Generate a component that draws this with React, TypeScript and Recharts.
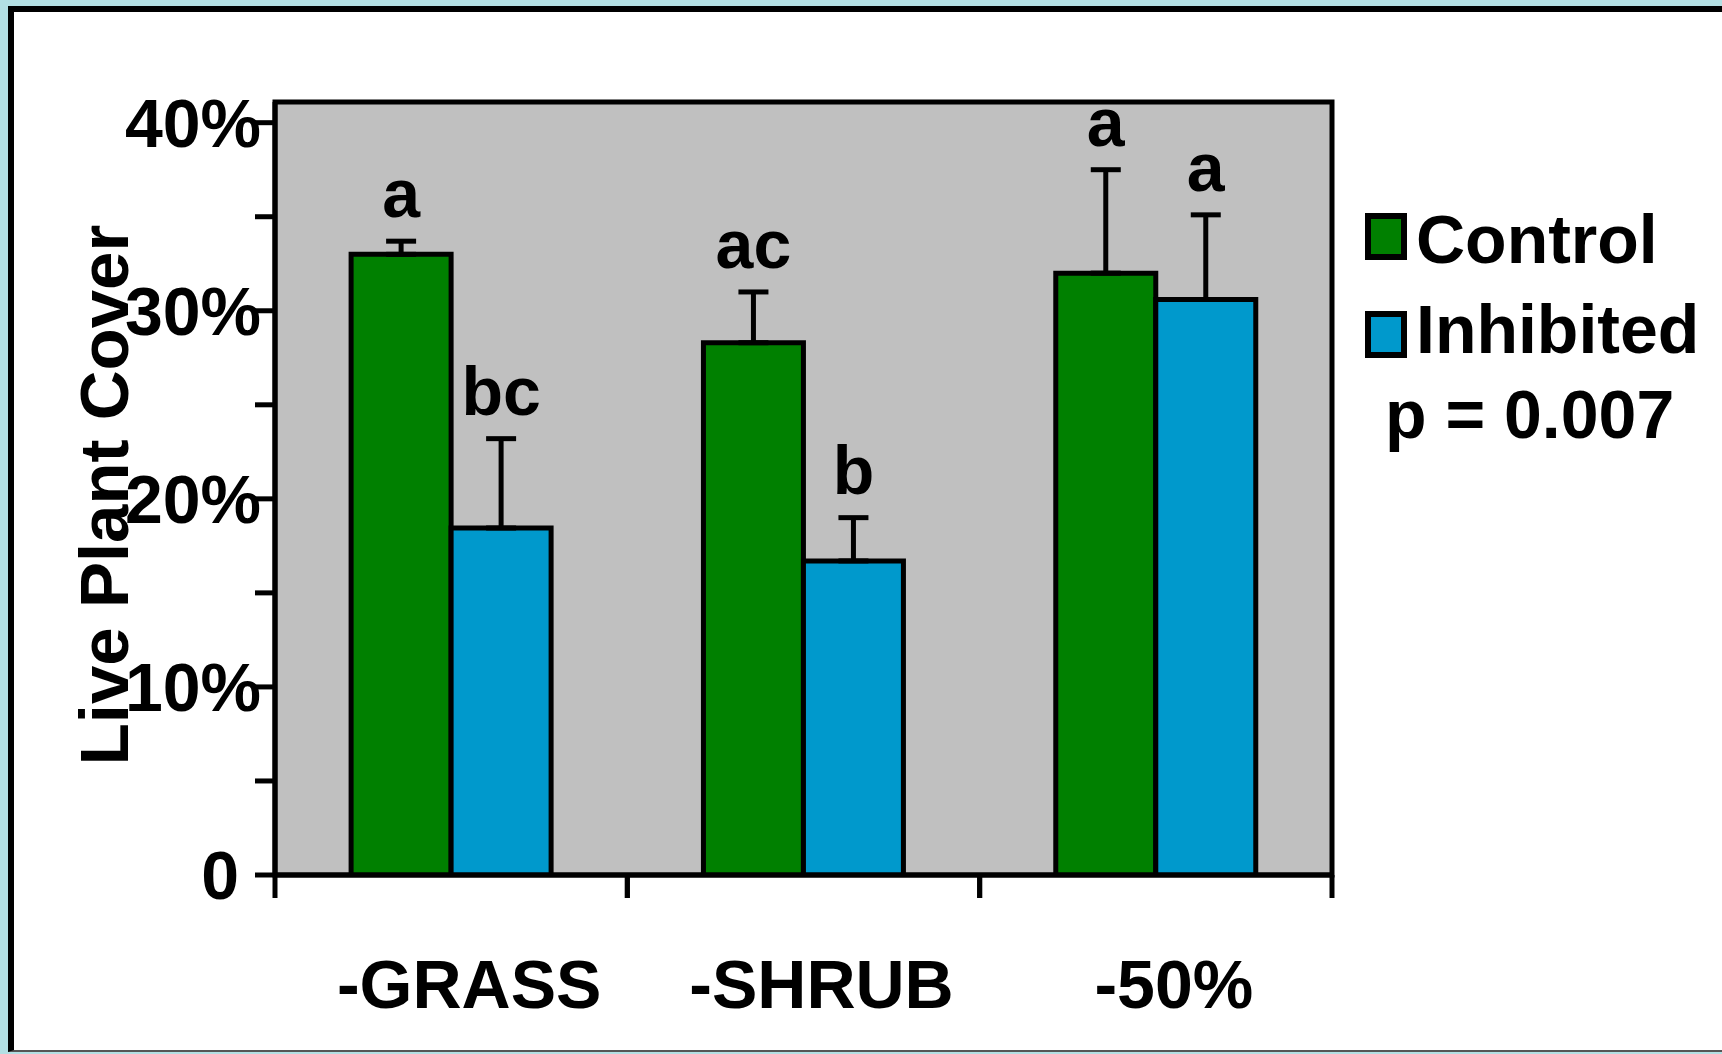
import React from "react";
import { BarChart, Bar, XAxis, YAxis, CartesianGrid, ErrorBar, LabelList, Legend, ReferenceArea } from "recharts";

const categories = ["-GRASS", "-SHRUB", "-50%"];
const controlCover = [33.0, 28.3, 32.0];
const controlErr = [0.7, 2.7, 5.5];
const inhibitedCover = [18.45, 16.7, 30.6];
const inhibitedErr = [4.75, 2.3, 4.5];
const controlLetters = ["a", "ac", "a"];
const inhibitedLetters = ["bc", "b", "a"];
const yTicks = [0, 5, 10, 15, 20, 25, 30, 35, 40];
const pText = "p = 0.007";

const data = categories.map((c, i) => ({
  cat: c,
  control: controlCover[i],
  controlErr: [0, controlErr[i]],
  controlLetter: controlLetters[i],
  inhibited: inhibitedCover[i],
  inhibitedErr: [0, inhibitedErr[i]],
  inhibitedLetter: inhibitedLetters[i],
}));

const W = 1722, H = 1054;
const PLOT_LEFT = 275, PLOT_RIGHT = 1332, PLOT_TOP = 102, PLOT_BOTTOM = 875;
const Y_AXIS_W = 120, X_AXIS_H = 60;
const Y_MAX = 41.1;
const PX_PER = (PLOT_BOTTOM - PLOT_TOP) / Y_MAX;
const BAND = (PLOT_RIGHT - PLOT_LEFT) / categories.length;
const FONT = '"Liberation Sans", Arial, Helvetica, sans-serif';
const GREEN = "#008000";
const BLUE = "#0099cc";

const txt = { fontFamily: FONT, fontWeight: 700, fontSize: 68, fill: "#000" };

function YTick({ x, y, payload }: any) {
  const v = payload.value;
  if (v % 10 !== 0) return null;
  return (
    <text x={v === 0 ? x - 14 : x + 8} y={y} dy="0.36em" textAnchor="end" {...txt}>
      {v === 0 ? "0" : `${v}%`}
    </text>
  );
}

function XTick({ x, payload }: any) {
  const left = x - BAND / 2, right = x + BAND / 2;
  return (
    <g>
      <line x1={left} x2={left} y1={PLOT_BOTTOM} y2={PLOT_BOTTOM + 23} stroke="#000" strokeWidth={5} />
      <line x1={right} x2={right} y1={PLOT_BOTTOM} y2={PLOT_BOTTOM + 23} stroke="#000" strokeWidth={5} />
      <text x={x + 18} y={PLOT_BOTTOM + 133} textAnchor="middle" {...txt}>{payload.value}</text>
    </g>
  );
}

const letter = (errs: number[]) => (p: any) => {
  const { x, y, width, value, index } = p;
  const top = y - errs[index] * PX_PER;
  return (
    <text x={x + width / 2} y={top - 24} textAnchor="middle" {...txt}>{value}</text>
  );
};

function YLabel() {
  const cx = 128, cy = 495;
  return (
    <text x={cx} y={cy} transform={`rotate(-90, ${cx}, ${cy})`} textAnchor="middle" {...txt} fontSize={69}>
      Live Plant Cover
    </text>
  );
}

function LegendBox({ payload }: any) {
  const items = payload || [];
  return (
    <svg width={360} height={260} style={{ display: "block" }}>
      {items.map((it: any, i: number) => (
        <g key={it.value}>
          <rect x={8} y={16 + i * 98} width={36} height={41} fill={it.color} stroke="#000" strokeWidth={6} />
          <text x={56} y={63 + i * 90} {...txt}>{it.value}</text>
        </g>
      ))}
      <text x={25} y={238} {...txt}>{pText}</text>
    </svg>
  );
}

export default function App() {
  return (
    <div style={{ position: "absolute", left: 0, top: 0, width: W, height: H, background: "#b3dfe3", overflow: "hidden" }}>
      <div style={{ position: "absolute", left: 8, top: 6, width: 1800, height: 1046, background: "#fff", borderLeft: "6px solid #000", borderTop: "6px solid #000", borderBottom: "2px solid #555", boxSizing: "border-box" }} />
      <div style={{ position: "absolute", left: 0, top: 0 }}>
        <BarChart
          width={W}
          height={H}
          data={data}
          margin={{ top: PLOT_TOP, left: PLOT_LEFT - Y_AXIS_W, right: W - PLOT_RIGHT, bottom: H - PLOT_BOTTOM - X_AXIS_H }}
          barCategoryGap="21.6%"
          barGap={0}
        >
          <CartesianGrid fill="#c0c0c0" fillOpacity={1} horizontal={false} vertical={false} />
          <XAxis dataKey="cat" height={X_AXIS_H} axisLine={{ stroke: "#000", strokeWidth: 5 }} tickLine={false} tick={<XTick />} interval={0} />
          <YAxis
            width={Y_AXIS_W}
            domain={[0, Y_MAX]}
            ticks={yTicks}
            allowDataOverflow
            axisLine={{ stroke: "#000", strokeWidth: 5 }}
            tickLine={{ stroke: "#000", strokeWidth: 5 }}
            tickSize={20}
            tick={<YTick />}
            label={<YLabel />}
          />
          <Legend layout="horizontal" verticalAlign="middle" align="center" wrapperStyle={{ left: 1360, top: 200, width: 360 }} content={<LegendBox />} />
          <Bar dataKey="control" name="Control" fill={GREEN} stroke="#000" strokeWidth={5} isAnimationActive={false}>
            <ErrorBar dataKey="controlErr" width={15} stroke="#000" strokeWidth={5} direction="y" />
            <LabelList dataKey="controlLetter" content={letter(controlErr)} />
          </Bar>
          <Bar dataKey="inhibited" name="Inhibited" fill={BLUE} stroke="#000" strokeWidth={5} isAnimationActive={false}>
            <ErrorBar dataKey="inhibitedErr" width={15} stroke="#000" strokeWidth={5} direction="y" />
            <LabelList dataKey="inhibitedLetter" content={letter(inhibitedErr)} />
          </Bar>
          <ReferenceArea y1={0} y2={Y_MAX} fill="none" stroke="#000" strokeWidth={5} ifOverflow="visible" />
        </BarChart>
      </div>
    </div>
  );
}
